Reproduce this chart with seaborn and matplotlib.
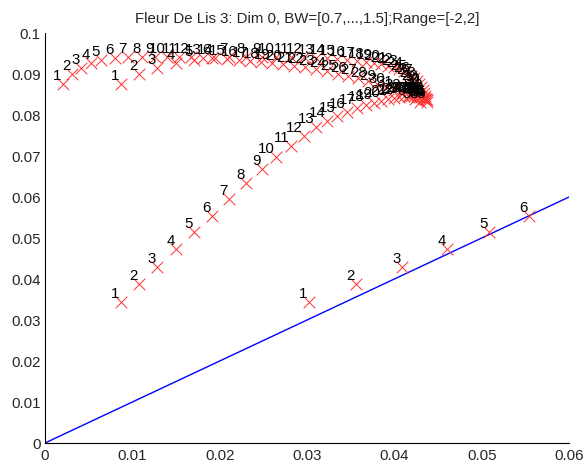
import numpy as np
import pandas as pd
import matplotlib
matplotlib.use('Agg')
import matplotlib.pyplot as plt
import seaborn as sns

# x of the long curve (lower branch and right part of the top branch share it)
x_mid = [0.00871, 0.01077, 0.01283, 0.01501, 0.01707, 0.01913, 0.02108, 0.02302,
         0.02486, 0.02646, 0.02818, 0.02967, 0.03104, 0.03230, 0.03345, 0.03459,
         0.03574, 0.03677, 0.03769, 0.03849, 0.03929, 0.03998, 0.04055, 0.04112,
         0.04158, 0.04192, 0.04227, 0.04261, 0.04284, 0.04307, 0.04330, 0.04341,
         0.04353, 0.04364, 0.04376]
# x of the left top branch
x_left = [0.00206, 0.00309, 0.00412, 0.00527, 0.00641, 0.00802, 0.00951, 0.01111,
          0.01260, 0.01397, 0.01535, 0.01672, 0.01810, 0.01947, 0.02085, 0.02222,
          0.02348, 0.02474, 0.02600, 0.02726, 0.02852, 0.02978, 0.03104, 0.03230,
          0.03356, 0.03471, 0.03585, 0.03700, 0.03803, 0.03906, 0.03998, 0.04089,
          0.04170, 0.04238, 0.04296]
# x of the points near the diagonal (the rest fall outside the axes)
x_diag = [0.03024, 0.03562, 0.04089, 0.04605, 0.05086, 0.05544]

# y of the lower branch / diagonal points
y_low = [0.03439, 0.03878, 0.04293, 0.04732, 0.05146, 0.05537, 0.05951, 0.06341,
         0.06683, 0.06976, 0.07244, 0.07488, 0.07707, 0.07854, 0.07976, 0.08073,
         0.08171, 0.08244, 0.08293, 0.08341, 0.08390, 0.08415, 0.08439, 0.08463,
         0.08463, 0.08463, 0.08463, 0.08463, 0.08439, 0.08439, 0.08415, 0.08415,
         0.08390, 0.08390, 0.08366]
# y of the top branches
y_top = [0.08756, 0.09000, 0.09146, 0.09268, 0.09341, 0.09390, 0.09415, 0.09415,
         0.09415, 0.09415, 0.09415, 0.09415, 0.09390, 0.09390, 0.09366, 0.09341,
         0.09317, 0.09293, 0.09268, 0.09244, 0.09195, 0.09171, 0.09122, 0.09073,
         0.09000, 0.08951, 0.08902, 0.08829, 0.08756, 0.08683, 0.08610, 0.08537,
         0.08463, 0.08390, 0.08317]

line_x = [0, 0.06]
line_y = [0, 0.06]

xticks = [0, 0.01, 0.02, 0.03, 0.04, 0.05, 0.06]
xtick_labels = ['0', '0.01', '0.02', '0.03', '0.04', '0.05', '0.06']
yticks = [0, 0.01, 0.02, 0.03, 0.04, 0.05, 0.06, 0.07, 0.08, 0.09, 0.1]
ytick_labels = ['0', '0.01', '0.02', '0.03', '0.04', '0.05', '0.06', '0.07',
                '0.08', '0.09', '0.1']

title = 'Fleur De Lis 3: Dim 0, BW=[0.7,...,1.5];Range=[-2,2]'

sns.set_style('white')
plt.rcParams['font.family'] = ['Liberation Sans', 'DejaVu Sans']
plt.rcParams['xtick.direction'] = 'in'
plt.rcParams['ytick.direction'] = 'in'

n_diag = len(x_diag)
pts = pd.concat([
    pd.DataFrame({'x': x_diag, 'y': y_low[:n_diag], 'k': np.arange(1, n_diag + 1)}),
    pd.DataFrame({'x': x_mid, 'y': y_low, 'k': np.arange(1, len(x_mid) + 1)}),
    pd.DataFrame({'x': x_mid, 'y': y_top, 'k': np.arange(1, len(x_mid) + 1)}),
    pd.DataFrame({'x': x_left, 'y': y_top, 'k': np.arange(1, len(x_left) + 1)}),
], ignore_index=True)

fig = plt.figure(figsize=(5.83, 4.65), dpi=100)
ax = fig.add_axes([0.0772, 0.0473, 0.8988, 0.8817])

sns.lineplot(x=line_x, y=line_y, color='blue', linewidth=1, ax=ax, legend=False)
sns.scatterplot(data=pts, x='x', y='y', marker='x', color='#ff3030', s=70,
                linewidth=0.7, ax=ax, legend=False, zorder=3)

for _, r in pts.iterrows():
    ax.annotate(str(int(r['k'])), (r['x'], r['y']), xytext=(-1, 1),
                textcoords='offset points', ha='right', va='bottom',
                fontsize=10.8, color='black', zorder=4)

ax.set_xlim(0, 0.06)
ax.set_ylim(0, 0.1)
ax.set_xticks(xticks)
ax.set_xticklabels(xtick_labels)
ax.set_yticks(yticks)
ax.set_yticklabels(ytick_labels)
ax.tick_params(axis='x', length=4, width=0.8, color='black', labelsize=10.8, pad=4)
ax.tick_params(axis='y', length=4, width=0.8, color='black', labelsize=10.8, pad=3)
ax.set_xlabel('')
ax.set_ylabel('')
for s in ['top', 'right']:
    ax.spines[s].set_visible(False)
for s in ['left', 'bottom']:
    ax.spines[s].set_color('black')
    ax.spines[s].set_linewidth(0.8)
ax.set_title(title, fontsize=10.8, pad=7)

fig.savefig('out.png', dpi=100)
